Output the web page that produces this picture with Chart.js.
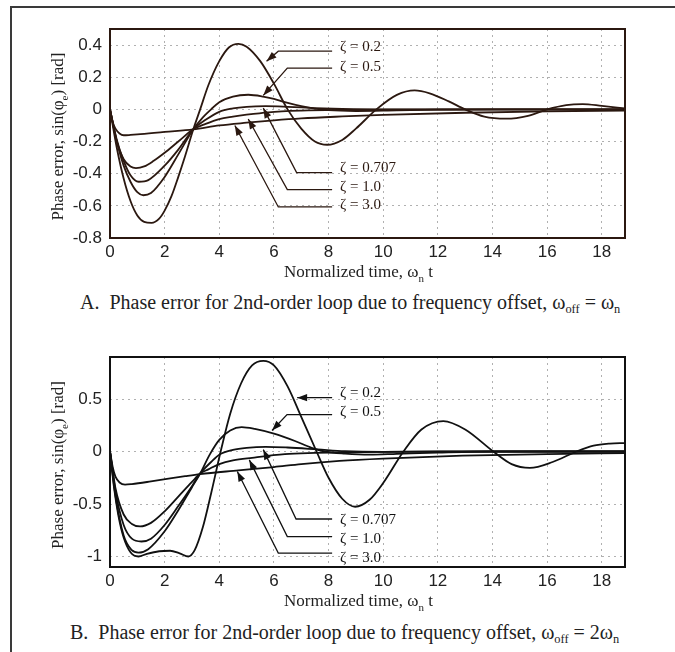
<!DOCTYPE html>
<html>
<head>
<meta charset="utf-8">
<script src="https://cdn.jsdelivr.net/npm/chart.js@4.4.1/dist/chart.umd.min.js"></script>
<style>
  html, body { margin: 0; padding: 0; background: #fff; }
  body { width: 675px; height: 652px; position: relative; overflow: hidden; }
  .frame { position: absolute; left: 10px; top: 6px; width: 700px; height: 700px;
           border-left: 2px solid #3a3a3a; border-top: 2px solid #3a3a3a; }
  canvas { position: absolute; left: 0; }
  #chart-a { top: 0; width: 675px; height: 285px; }
  #chart-b { top: 320px; width: 675px; height: 295px; }
  .caption { position: absolute; font-family: "Liberation Serif", "Times New Roman", serif;
             font-size: 20px; line-height: 24px; color: #222; white-space: nowrap; }
  .caption sub { font-size: 0.62em; vertical-align: -0.35em; line-height: 0; }
</style>
</head>
<body>
<div class="frame"></div>
<canvas id="chart-a" width="675" height="285"></canvas>
<div class="caption" style="left:80px; top:290px">A.&nbsp; Phase error for 2nd-order loop due to frequency offset, ω<sub>off</sub> = ω<sub>n</sub></div>
<canvas id="chart-b" width="675" height="295"></canvas>
<div class="caption" style="left:70px; top:620px">B.&nbsp; Phase error for 2nd-order loop due to frequency offset, ω<sub>off</sub> = 2ω<sub>n</sub></div>

<script>
// time axis (normalized, ωn t) and tick values
const timeMax = 18.85;
const timeTicks = [0, 2, 4, 6, 8, 10, 12, 14, 16, 18];
const errTicksA = [-0.8, -0.6, -0.4, -0.2, 0, 0.2, 0.4];
const errTicksB = [-1, -0.5, 0, 0.5];
const zetaLabels = ['ζ = 0.2', 'ζ = 0.5', 'ζ = 0.707', 'ζ = 1.0', 'ζ = 3.0'];

// A: ω_off = ω_n   -- [t, sin(phi_e)]
const a02 = [[0,0],[0.25,-0.24],[0.5,-0.43],[0.75,-0.57],[1,-0.66],[1.25,-0.7],[1.52,-0.706],[1.8,-0.68],
  [2,-0.63],[2.25,-0.54],[2.5,-0.42],[2.75,-0.29],[3.05,-0.124],[3.3,0],[3.6,0.15],[4,0.3],[4.35,0.385],
  [4.7,0.408],[5,0.39],[5.5,0.3],[6,0.16],[6.5,0],[7,-0.12],[7.5,-0.2],[7.95,-0.22],[8.5,-0.19],[9,-0.12],
  [9.75,0],[10.5,0.09],[11.15,0.118],[11.7,0.1],[12.4,0.05],[13,0],[13.7,-0.045],[14.5,-0.058],[15.3,-0.04],
  [16,0],[16.7,0.027],[17.3,0.033],[18,0.022],[18.85,0.006]];
const a05 = [[0,0],[0.25,-0.2],[0.5,-0.35],[0.75,-0.45],[1,-0.515],[1.22,-0.534],[1.5,-0.52],[2,-0.42],
  [2.5,-0.28],[3.05,-0.124],[3.4,-0.05],[3.7,0],[4,0.045],[4.5,0.08],[5.06,0.091],[5.6,0.08],[6,0.065],
  [6.4,0.045],[7,0.02],[7.5,0.005],[8,-0.005],[9,-0.01],[10.5,-0.006],[12,-0.002],[14,0],[18.85,0]];
const a0707 = [[0,0],[0.25,-0.19],[0.5,-0.32],[0.75,-0.41],[1.05,-0.45],[1.4,-0.44],[2,-0.35],[2.5,-0.25],
  [3.05,-0.124],[3.5,-0.065],[4,-0.015],[4.5,0.006],[5,0.016],[5.7,0.02],[6.5,0.016],[7.5,0.008],
  [8.5,0.003],[10,0],[18.85,0]];
const a10 = [[0,0],[0.25,-0.2],[0.5,-0.31],[0.75,-0.355],[0.95,-0.365],[1.25,-0.355],[1.6,-0.32],[2,-0.27],
  [2.5,-0.2],[3.05,-0.124],[3.5,-0.09],[4,-0.06],[4.5,-0.045],[5,-0.033],[5.8,-0.018],[7,-0.008],
  [8.5,-0.003],[10,-0.001],[18.85,0]];
const a30 = [[0,0],[0.1,-0.08],[0.2,-0.12],[0.35,-0.15],[0.5,-0.161],[0.75,-0.159],[1,-0.156],[2,-0.14],
  [3.05,-0.124],[4,-0.1],[5,-0.083],[6,-0.068],[7,-0.056],[8.5,-0.044],[10,-0.034],[13,-0.021],
  [16,-0.012],[18.85,-0.007]];

// B: ω_off = 2ω_n
const b02 = [[0,0],[0.15,-0.35],[0.3,-0.6],[0.5,-0.82],[0.75,-0.96],[1.04,-1],[1.35,-0.975],[1.8,-0.95],
  [2.2,-0.945],[2.55,-0.97],[2.87,-1],[3.1,-0.94],[3.4,-0.72],[3.7,-0.4],[4.05,0],[4.4,0.36],[4.8,0.65],
  [5.2,0.82],[5.61,0.863],[6,0.82],[6.5,0.62],[7,0.33],[7.56,0],[8,-0.25],[8.5,-0.45],[8.97,-0.526],
  [9.5,-0.46],[10,-0.3],[10.74,0],[11.4,0.21],[12.2,0.29],[13,0.21],[14.03,0],[14.7,-0.12],[15.37,-0.156],
  [16.2,-0.1],[17.08,0],[17.7,0.055],[18.3,0.075],[18.85,0.08]];
const b05 = [[0,0],[0.2,-0.42],[0.5,-0.8],[0.8,-0.94],[1.04,-0.963],[1.4,-0.93],[2,-0.76],[2.5,-0.56],
  [3,-0.34],[3.3,-0.21],[3.65,-0.03],[4,0.11],[4.4,0.2],[4.82,0.232],[5.3,0.215],[6,0.17],[6.77,0.1],
  [7.38,0.035],[7.86,0],[8.6,-0.02],[9.5,-0.03],[10.5,-0.022],[12,-0.01],[14,0],[18.85,0]];
const b0707 = [[0,0],[0.2,-0.38],[0.5,-0.7],[0.8,-0.83],[1.15,-0.857],[1.5,-0.83],[2,-0.7],[2.5,-0.52],
  [3,-0.33],[3.3,-0.21],[3.7,-0.1],[4,-0.03],[4.5,0.015],[5,0.035],[5.7,0.045],[6.5,0.038],[7.6,0.02],
  [8.6,0.003],[10,-0.003],[12,0],[18.85,0]];
const b10 = [[0,0],[0.2,-0.35],[0.5,-0.6],[0.8,-0.69],[1.1,-0.714],[1.5,-0.68],[2,-0.57],[2.5,-0.43],
  [3,-0.29],[3.3,-0.21],[3.6,-0.17],[4,-0.12],[4.5,-0.085],[5.2,-0.06],[6.4,-0.025],[7.5,-0.014],
  [8.6,-0.008],[10,-0.004],[12,-0.001],[18.85,0]];
const b30 = [[0,0],[0.1,-0.15],[0.2,-0.24],[0.35,-0.295],[0.55,-0.315],[0.8,-0.31],[1.5,-0.285],
  [2.75,-0.235],[3.3,-0.215],[4.7,-0.18],[6,-0.148],[7,-0.12],[8.4,-0.09],[10,-0.068],[12.9,-0.04],
  [16,-0.025],[18.85,-0.016]];

// callouts: label position, leader line level, elbow and arrow tip (data units)
const lineEndT = 8.13, labelT = 8.42;
const notesA = [
  { labelV: 0.387, lineV: 0.362, elbowT: 6.16, tipT: 5.73, tipV: 0.30 },
  { labelV: 0.263, lineV: 0.257, elbowT: 6.49, tipT: 5.61, tipV: 0.087 },
  { labelV: -0.365, lineV: -0.393, elbowT: 6.83, tipT: 5.61, tipV: 0.008 },
  { labelV: -0.483, lineV: -0.499, elbowT: 6.49, tipT: 5.06, tipV: -0.06 },
  { labelV: -0.596, lineV: -0.607, elbowT: 6.16, tipT: 4.57, tipV: -0.1 }
];
const notesB = [
  { labelV: 0.557, lineV: 0.513, elbowT: 7.5, tipT: 6.85, tipV: 0.513 },
  { labelV: 0.376, lineV: 0.351, elbowT: 6.48, tipT: 5.93, tipV: 0.2 },
  { labelV: -0.65, lineV: -0.643, elbowT: 6.81, tipT: 5.61, tipV: 0.018 },
  { labelV: -0.832, lineV: -0.81, elbowT: 6.49, tipT: 5.1, tipV: -0.08 },
  { labelV: -1.013, lineV: -0.968, elbowT: 6.16, tipT: 4.66, tipV: -0.19 }
];

const SERIF = '"Liberation Serif", "Times New Roman", serif';

// text with subscripts: parts = [[text, isSub], ...]
function richWidth(ctx, parts, size) {
  let w = 0;
  parts.forEach(([t, sub]) => {
    ctx.font = (sub ? Math.round(size * 0.62) : size) + 'px ' + SERIF;
    w += ctx.measureText(t).width;
  });
  return w;
}
function drawRich(ctx, parts, x, y, size) {
  parts.forEach(([t, sub]) => {
    ctx.font = (sub ? Math.round(size * 0.62) : size) + 'px ' + SERIF;
    ctx.fillText(t, x, sub ? y + size * 0.28 : y);
    x += ctx.measureText(t).width;
  });
}

const xTitle = [['Normalized time, ω', false], ['n', true], [' t', false]];
const yTitle = [['Phase error, sin(φ', false], ['e', true], [') [rad]', false]];

const decor = {
  id: 'decor',
  afterDraw(chart, args, opts) {
    const { ctx, chartArea: a, scales: { x, y } } = chart;
    ctx.save();
    ctx.fillStyle = opts.ink;
    ctx.strokeStyle = opts.ink;

    // callouts
    ctx.lineWidth = 1.3;
    opts.notes.forEach((n, i) => {
      const yl = y.getPixelForValue(n.lineV);
      const xr = x.getPixelForValue(lineEndT);
      const xe = x.getPixelForValue(n.elbowT);
      const xt = x.getPixelForValue(n.tipT);
      const yt = y.getPixelForValue(n.tipV);
      ctx.beginPath();
      ctx.moveTo(xr, yl);
      ctx.lineTo(xe, yl);
      ctx.lineTo(xt, yt);
      ctx.stroke();
      const ang = Math.atan2(yt - yl, xt - xe);
      const len = 10, half = 3.6;
      const bx = xt - len * Math.cos(ang), by = yt - len * Math.sin(ang);
      ctx.beginPath();
      ctx.moveTo(xt, yt);
      ctx.lineTo(bx - half * Math.sin(ang), by + half * Math.cos(ang));
      ctx.lineTo(bx + half * Math.sin(ang), by - half * Math.cos(ang));
      ctx.closePath();
      ctx.fill();
      ctx.font = '15px ' + SERIF;
      ctx.textBaseline = 'middle';
      ctx.textAlign = 'left';
      ctx.fillText(zetaLabels[i], x.getPixelForValue(labelT), y.getPixelForValue(n.labelV));
    });

    // plot frame
    ctx.lineWidth = 2;
    ctx.strokeRect(a.left, a.top, a.right - a.left, a.bottom - a.top);

    // axis titles
    ctx.fillStyle = '#222';
    ctx.textBaseline = 'alphabetic';
    const size = 17;
    const xw = richWidth(ctx, xTitle, size);
    drawRich(ctx, xTitle, (a.left + a.right) / 2 - 9 - xw / 2, a.bottom + 39, size);
    const yw = richWidth(ctx, yTitle, size);
    ctx.translate(63, (a.top + a.bottom) / 2 + 3);
    ctx.rotate(-Math.PI / 2);
    drawRich(ctx, yTitle, -yw / 2, 0, size);
    ctx.restore();
  }
};

function drawPanel(id, series, ticks, yMin, yMax, notes, ink, padTop, xAxisH) {
  new Chart(document.getElementById(id), {
    type: 'line',
    data: {
      datasets: series.map(s => ({
        data: s.map(([t, v]) => ({ x: t, y: v })),
        borderColor: ink,
        borderWidth: 1.8,
        pointRadius: 0,
        fill: false,
        cubicInterpolationMode: 'monotone'
      }))
    },
    options: {
      responsive: false,
      animation: false,
      events: [],
      layout: { padding: { top: padTop, right: 50, left: 0, bottom: 0 } },
      plugins: {
        legend: { display: false },
        tooltip: { enabled: false },
        decor: { ink, notes }
      },
      scales: {
        x: {
          type: 'linear',
          min: 0,
          max: timeMax,
          afterBuildTicks: s => { s.ticks = timeTicks.map(v => ({ value: v })); },
          ticks: {
            padding: 4,
            color: '#222',
            font: { family: '"Liberation Sans", Arial, sans-serif', size: 17 },
            callback: v => String(v)
          },
          grid: { color: '#b0b0b0', lineWidth: 1, drawTicks: false },
          border: { display: false, dash: [2, 4] },
          afterFit: s => { s.height = xAxisH; }
        },
        y: {
          min: yMin,
          max: yMax,
          afterBuildTicks: s => { s.ticks = ticks.map(v => ({ value: v })); },
          ticks: {
            padding: 8,
            color: '#222',
            font: { family: '"Liberation Sans", Arial, sans-serif', size: 17 },
            callback: v => String(v)
          },
          grid: { color: '#b0b0b0', lineWidth: 1, drawTicks: false },
          border: { display: false, dash: [2, 4] },
          afterFit: s => { s.width = 110; }
        }
      }
    },
    plugins: [decor]
  });
}

drawPanel('chart-a', [a02, a05, a0707, a10, a30], errTicksA, -0.8, 0.5, notesA, '#2b1810', 29, 47);
drawPanel('chart-b', [b02, b05, b0707, b10, b30], errTicksB, -1.1, 0.9, notesB, '#111', 37, 48);
</script>
</body>
</html>
